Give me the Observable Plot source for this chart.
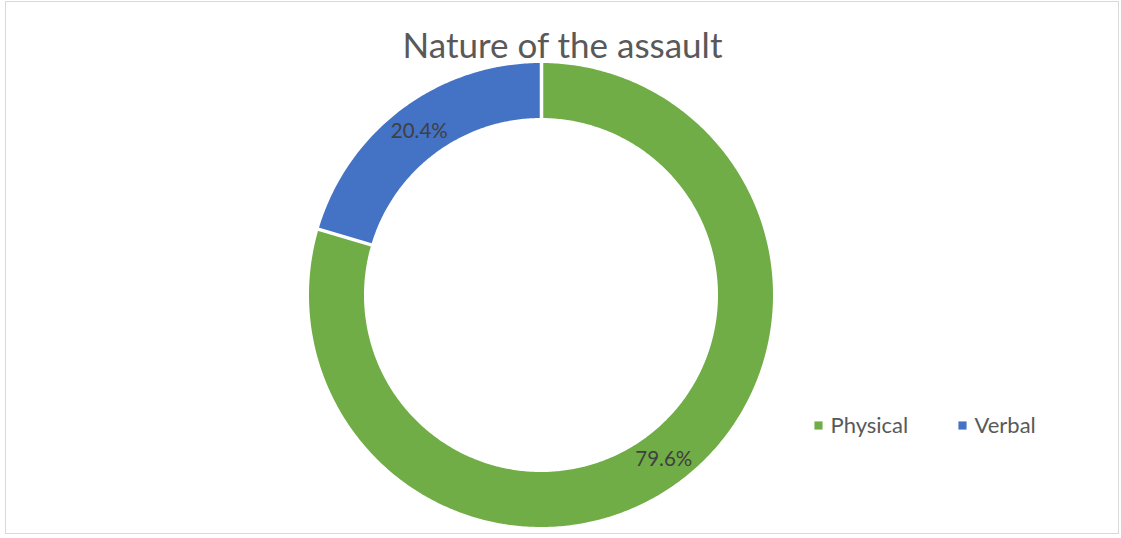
<!DOCTYPE html>
<html>
<head>
<meta charset="utf-8">
<script src="https://cdn.jsdelivr.net/npm/d3@7"></script>
<script src="https://cdn.jsdelivr.net/npm/@observablehq/plot@0.6"></script>
<style>
  html, body { margin: 0; padding: 0; background: #fff; }
  #wrap { position: relative; width: 1121px; height: 538px; overflow: hidden; }
  #border { position: absolute; left: 5px; top: 1px; width: 1114px; height: 533px; border: 1px solid #d9d9d9; box-sizing: border-box; pointer-events: none; }
  #chart { position: absolute; left: 0; top: 0; }
</style>
</head>
<body>
<div id="wrap">
  <div id="chart"></div>
  <div id="border"></div>
</div>
<script>
// ---- data ----
const title = "Nature of the assault";
const categories = ["Physical", "Verbal"];
const values = [79.6, 20.4];
const labels = ["79.6%", "20.4%"];
const colors = ["#70AD47", "#4472C4"];

// ---- layout ----
const W = 1121, H = 538;
const cx = 541, cy = 295, R = 232, r0 = 177;

const arcs = d3.pie().sort(null)(values);
const ring = [];
arcs.forEach((a, i) => {
  const n = Math.max(2, Math.ceil((a.endAngle - a.startAngle) / 0.01));
  for (let k = 0; k <= n; k++) {
    const t = a.startAngle + (a.endAngle - a.startAngle) * k / n;
    ring.push({cat: categories[i],
      x1: cx + R * Math.sin(t), y1: cy - R * Math.cos(t),
      x2: cx + r0 * Math.sin(t), y2: cy - r0 * Math.cos(t)});
  }
});
const seps = arcs.map(a => ({
  x1: cx + (r0 - 2) * Math.sin(a.startAngle), y1: cy - (r0 - 2) * Math.cos(a.startAngle),
  x2: cx + (R + 2) * Math.sin(a.startAngle), y2: cy - (R + 2) * Math.cos(a.startAngle)}));
const rm = (R + r0) / 2;
const lab = arcs.map((a, i) => {
  const m = (a.startAngle + a.endAngle) / 2;
  return {text: labels[i], x: cx + rm * Math.sin(m), y: cy - rm * Math.cos(m)};
});
const legendX = [818, 962];
const leg = categories.map((c, i) => ({cat: c, x: legendX[i], y: 425}));

const font = "Lato, 'Open Sans', sans-serif";
const chart = Plot.plot({
  width: W, height: H,
  margin: 0,
  x: {domain: [0, W], axis: null},
  y: {domain: [H, 0], axis: null},
  color: {domain: categories, range: colors},
  style: {fontFamily: font, background: "transparent"},
  marks: [
    Plot.area(ring, {x1: "x1", y1: "y1", x2: "x2", y2: "y2", fill: "cat", z: "cat", curve: "linear"}),
    Plot.link(seps, {x1: "x1", y1: "y1", x2: "x2", y2: "y2", stroke: "white", strokeWidth: 3.5}),
    Plot.text(lab, {x: "x", y: "y", text: "text", fill: "#404040", fontSize: 20.5, fontFamily: font}),
    Plot.text([title], {x: [562], y: [46], text: d => d, fill: "#595959", fontSize: 35, fontFamily: font}),
    Plot.dot(leg, {x: "x", y: "y", symbol: "square", r: 4.6, fill: "cat", stroke: null}),
    Plot.text(leg, {x: d => d.x + 12, y: "y", text: "cat", textAnchor: "start", fill: "#595959", fontSize: 22, fontFamily: font})
  ]
});
document.getElementById("chart").appendChild(chart);
</script>
</body>
</html>
